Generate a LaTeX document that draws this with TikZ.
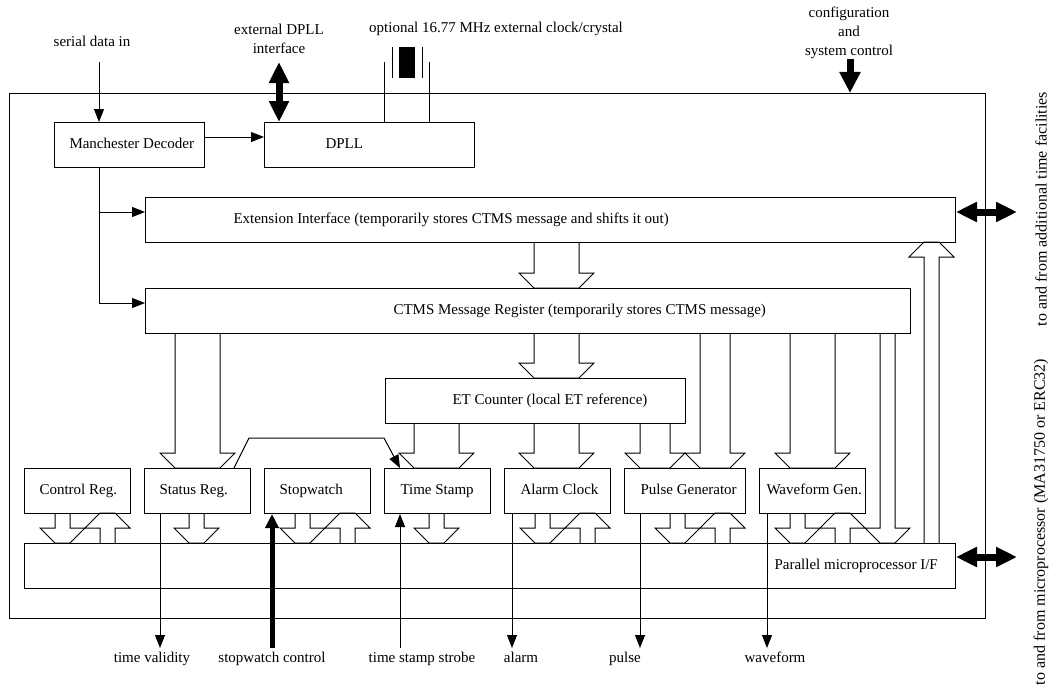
\documentclass[tikz,border=0pt]{standalone}
\usepackage{fontspec}
\setmainfont{Liberation Serif}
\usetikzlibrary{arrows.meta}
\newcommand\hdown[5]{\draw[hollow] (#1,#3) -- (#1,#4-#5) -- (#1-#5,#4-#5) -- (#1,#4) -- (#2,#4) -- (#2+#5,#4-#5) -- (#2,#4-#5) -- (#2,#3);}
\newcommand\hup[5]{\draw[hollow] (#1,#3) -- (#1,#4+#5) -- (#1-#5,#4+#5) -- (#1,#4) -- (#2,#4) -- (#2+#5,#4+#5) -- (#2,#4+#5) -- (#2,#3);}
\begin{document}
\begin{tikzpicture}[x=1pt,y=-1pt,line width=1pt,
  font=\fontsize{15}{19}\selectfont,
  blk/.style={draw,rectangle,inner sep=0pt,anchor=north west},
  lbl/.style={inner sep=0pt,anchor=west,text height=10.5pt,text depth=3.5pt},
  txt/.style={inner sep=0pt,align=center},
  one/.style={inner sep=0pt,text height=10.5pt,text depth=3.5pt},
  hollow/.style={line join=miter},
  sig/.style={-{Triangle[length=13pt,width=10pt]}},
  bigarrow/.style={line width=7pt,-{Triangle[length=21pt,width=20pt]}},
  dblarrow/.style={line width=7pt,{Triangle[length=21pt,width=19pt]}-{Triangle[length=21pt,width=19pt]}}]
\useasboundingbox (0,0) rectangle (1049,693);
\fill[white] (0,0) rectangle (1049,693);

% outer box
\node[blk,minimum width=976pt,minimum height=525pt] (outer) at (9,93) {};

% boxes
\node[blk,minimum width=150pt,minimum height=45pt] (man) at (54,122) {};
\node[blk,minimum width=210pt,minimum height=45pt] (dpll) at (264,122) {};
\node[blk,minimum width=810pt,minimum height=45pt] (ext) at (145,197) {};
\node[blk,minimum width=765pt,minimum height=45pt] (ctms) at (145,288) {};
\node[blk,minimum width=300pt,minimum height=45pt] (etc) at (385,378) {};
\node[blk,minimum width=106pt,minimum height=45pt] (ctrl) at (24,468) {};
\node[blk,minimum width=106pt,minimum height=45pt] (stat) at (144,468) {};
\node[blk,minimum width=106pt,minimum height=45pt] (stop) at (264,468) {};
\node[blk,minimum width=106pt,minimum height=45pt] (ts) at (384,468) {};
\node[blk,minimum width=106pt,minimum height=45pt] (alarm) at (504,468) {};
\node[blk,minimum width=121pt,minimum height=45pt] (pulse) at (624,468) {};
\node[blk,minimum width=106pt,minimum height=45pt] (wave) at (759,468) {};
\node[blk,minimum width=931pt,minimum height=45pt] (pif) at (24,543) {};

% box texts
\node[lbl] (tman) at (69,144.5) {Manchester Decoder};
\node[lbl] (tdpll) at (325,144.5) {DPLL};
\node[lbl] (text) at (233,219.5) {Extension Interface (temporarily stores CTMS message and shifts it out)};
\node[lbl] (tctms) at (393,311) {CTMS Message Register (temporarily stores CTMS message)};
\node[lbl] (tetc) at (452,400.5) {ET Counter (local ET reference)};
\node[lbl] (tctrl) at (39,490.5) {Control Reg.};
\node[lbl] (tstat) at (159,490.5) {Status Reg.};
\node[lbl] (tstop) at (279,490.5) {Stopwatch};
\node[lbl] (tts) at (400,490.5) {Time Stamp};
\node[lbl] (talarm) at (520,490.5) {Alarm Clock};
\node[lbl] (tpulse) at (640,490.5) {Pulse Generator};
\node[lbl] (twave) at (766,490.5) {Waveform Gen.};
\node[lbl] (tpif) at (774,565.5) {Parallel microprocessor I/F};

% outside texts
\node[one] (lsdin) at (92,43) {serial data in};
\node[txt] (lextd) at (279,38.5) {external DPLL\\interface};
\node[one] (lxtal) at (496,29) {optional 16.77 MHz external clock/crystal};
\node[txt] (lcfg) at (849,32.5) {configuration\\and\\system control};
\node[one] (ltv) at (152,659) {time validity};
\node[one] (lswc) at (272,659) {stopwatch control};
\node[one] (ltss) at (422,659) {time stamp strobe};
\node[one] (lalarm) at (521,659) {alarm};
\node[one] (lpulse) at (625,659) {pulse};
\node[one] (lwave) at (775,659) {waveform};
\node[txt,rotate=90,font=\fontsize{16}{19}\selectfont] (lfac) at (1041,209) {to and from additional time facilities};
\node[txt,rotate=90,font=\fontsize{16}{19}\selectfont] (lmp) at (1041,522) {to and from microprocessor (MA31750 or ERC32)};

% top inputs
\coordinate (sdin) at (99,62);
\draw[sig] (sdin) -- (sdin |- man.north);
\coordinate (extd) at (279,62);
\draw[dblarrow] (extd) -- (extd |- dpll.north);
\coordinate (cfg) at (850,59);
\draw[bigarrow] (cfg) -- (cfg |- outer.north);

% crystal
\coordinate (xa) at (384,62);
\coordinate (xb) at (429,62);
\draw (xa) -- (xa |- dpll.north);
\draw (xb) -- (xb |- dpll.north);
\draw (392,47) -- (392,78);
\draw (422,47) -- (422,78);
\fill (399,47) rectangle (415,78);

% Manchester connections
\draw[sig] (man.east |- 0,137) -- (dpll.west |- 0,137);
\coordinate (mb) at (99,303);
\draw[sig] (man.south -| mb) -- (mb) -- (ctms.west |- mb);
\coordinate (me) at (99,212);
\draw[sig] (me) -- (ext.west |- me);

% right double arrows
\coordinate (r1) at (1017,212);
\coordinate (r2) at (1017,557);
\draw[dblarrow] (ext.east |- r1) -- (r1);
\draw[dblarrow] (pif.east |- r2) -- (r2);

% big hollow arrows
\hdown{534}{579}{242}{288}{15}
\hdown{534}{579}{333}{378}{15}
\hdown{175}{220}{333}{468}{15}
\hdown{414}{459}{423}{468}{15}
\hdown{534}{579}{423}{468}{15}
\hdown{640}{670}{423}{468}{15}
\hdown{700}{730}{333}{468}{15}
\hdown{790}{835}{333}{468}{15}
\hdown{880}{895}{333}{543}{15}
\hup{924}{939}{543}{242}{15}

% register <-> parallel I/F
\hdown{55}{70}{513}{543}{15}
\hup{100}{115}{543}{513}{15}
\hdown{189}{204}{513}{543}{15}
\hdown{295}{310}{513}{543}{15}
\hup{340}{355}{543}{513}{15}
\hdown{429}{444}{513}{543}{15}
\hdown{535}{550}{513}{543}{15}
\hup{580}{595}{543}{513}{15}
\hdown{670}{685}{513}{543}{15}
\hup{715}{730}{543}{513}{15}
\hdown{790}{805}{513}{543}{15}
\hup{835}{850}{543}{513}{15}

% status -> time stamp
\draw[sig] (stat.north -| 234,0) -- (249,438) -- (384,438) -- (ts.north -| 400,0);

% bottom signals
\coordinate (btv) at (160,648);
\draw[sig] (stat.south -| btv) -- (btv);
\coordinate (bsw) at (272,648);
\draw[line width=5pt,-{Triangle[length=14pt,width=13pt]}] (bsw) -- (bsw |- stop.south);
\coordinate (bts) at (400,648);
\draw[sig] (bts) -- (bts |- ts.south);
\coordinate (bal) at (512,648);
\draw[sig] (alarm.south -| bal) -- (bal);
\coordinate (bpu) at (640,648);
\draw[sig] (pulse.south -| bpu) -- (bpu);
\coordinate (bwa) at (767,648);
\draw[sig] (wave.south -| bwa) -- (wave.south -| bwa) -- (bwa);
\end{tikzpicture}
\end{document}
